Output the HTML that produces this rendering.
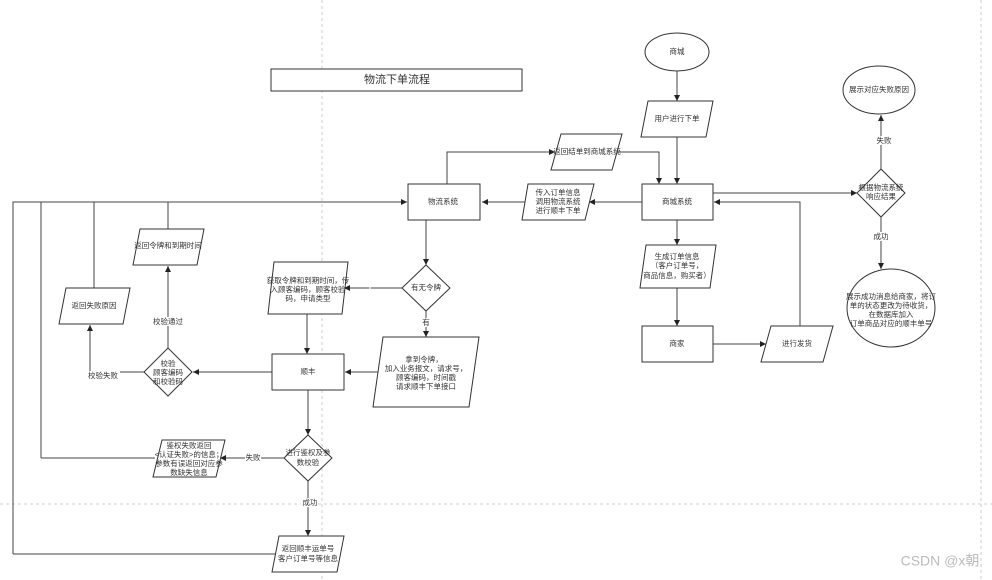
<!DOCTYPE html>
<html><head><meta charset="utf-8"><style>
html,body{margin:0;padding:0;background:#fff;}
svg{display:block;}
text{font-family:"Liberation Sans","Noto Sans CJK SC",sans-serif;font-size:7.5px;fill:#333;text-anchor:middle;dominant-baseline:middle;}
.s{fill:#fff;stroke:#333;stroke-width:1;}
.l{fill:none;stroke:#444;stroke-width:1;}
.lb{fill:#fff;}
</style></head><body>
<svg width="992" height="580" viewBox="0 0 992 580" xmlns="http://www.w3.org/2000/svg">
<defs><marker id="a" markerWidth="8" markerHeight="8" refX="6" refY="3" orient="auto" markerUnits="userSpaceOnUse"><path d="M0,0 L6,3 L0,6 Z" fill="#222"/></marker></defs>
<line x1="322" y1="0" x2="322" y2="580" stroke="#ccc" stroke-dasharray="3,3"/>
<line x1="981" y1="0" x2="981" y2="580" stroke="#ccc" stroke-dasharray="3,3"/>
<line x1="0" y1="504" x2="992" y2="504" stroke="#ccc" stroke-dasharray="3,3"/>

<!-- title -->
<rect x="271" y="69" width="251" height="22" class="s" stroke-width="1.2"/>
<text x="397" y="80" style="font-size:11px">物流下单流程</text>

<!-- connectors -->
<path class="l" d="M677,71 V101" marker-end="url(#a)"/>
<path class="l" d="M677,137 V184" marker-end="url(#a)"/>
<path class="l" d="M447,184 V152 H555" marker-end="url(#a)"/>
<path class="l" d="M617,152 H659 V184" marker-end="url(#a)"/>
<path class="l" d="M642,202 H589" marker-end="url(#a)"/>
<path class="l" d="M527,202 H482" marker-end="url(#a)"/>
<path class="l" d="M426,220 V265" marker-end="url(#a)"/>
<path class="l" d="M402,288 H344" marker-end="url(#a)"/>
<path class="l" d="M426,311 V337" marker-end="url(#a)"/>
<path class="l" d="M378,372 H345" marker-end="url(#a)"/>
<path class="l" d="M307,314 V354" marker-end="url(#a)"/>
<path class="l" d="M272,372 H193" marker-end="url(#a)"/>
<path class="l" d="M168,348 V266" marker-end="url(#a)"/>
<path class="l" d="M144,372 H90 V325" marker-end="url(#a)"/>
<path class="l" d="M168,229 V202"/>
<path class="l" d="M94,288 V202"/>
<path class="l" d="M13,554 V202 H407" marker-end="url(#a)"/>
<path class="l" d="M41,458 V202"/>
<path class="l" d="M308,390 V435" marker-end="url(#a)"/>
<path class="l" d="M284,458 H220" marker-end="url(#a)"/>
<path class="l" d="M155,458 H41"/>
<path class="l" d="M308,481 V536" marker-end="url(#a)"/>
<path class="l" d="M276,554 H13"/>
<path class="l" d="M677,220 V245" marker-end="url(#a)"/>
<path class="l" d="M677,288 V326" marker-end="url(#a)"/>
<path class="l" d="M713,344 H766" marker-end="url(#a)"/>
<path class="l" d="M800,326 V202 H714" marker-end="url(#a)"/>
<path class="l" d="M713,193 H857" marker-end="url(#a)"/>
<path class="l" d="M881,169 V115" marker-end="url(#a)"/>
<path class="l" d="M881,217 V269" marker-end="url(#a)"/>

<!-- labels on lines -->
<text x="370" y="288" class="lb" style="font-size:7px">无</text>
<rect x="421" y="318" width="10" height="9" fill="#fff"/><text x="426" y="323">有</text>
<rect x="151" y="317" width="34" height="9" fill="#fff"/><text x="168" y="322">校验通过</text>
<rect x="88" y="371" width="32" height="9" fill="#fff"/><text x="103" y="376">校验失败</text>
<rect x="245" y="453" width="16" height="9" fill="#fff"/><text x="253" y="458">失败</text>
<rect x="301" y="498" width="16" height="9" fill="#fff"/><text x="310" y="503">成功</text>
<rect x="876" y="136" width="16" height="9" fill="#fff"/><text x="884" y="141">失败</text>
<rect x="873" y="232" width="16" height="9" fill="#fff"/><text x="881" y="237">成功</text>

<!-- shapes -->
<ellipse cx="677" cy="52" rx="32" ry="19" class="s"/><text x="677" y="52">商城</text>
<polygon points="648,101 713,101 706,137 641,137" class="s"/><text x="677" y="119">用户进行下单</text>
<rect x="642" y="184" width="71" height="36" class="s"/><text x="677" y="202">商城系统</text>
<polygon points="561,134 622,134 612,170 551,170" class="s"/><text x="587" y="152">返回结单到商城系统</text>
<polygon points="528,184 594,184 585,220 522,220" class="s"/>
<text x="558" y="193">传入订单信息</text><text x="558" y="202">调用物流系统</text><text x="558" y="211">进行顺丰下单</text>
<rect x="408" y="184" width="72" height="36" class="s"/><text x="443" y="202">物流系统</text>
<polygon points="426,265 450,288 426,311 402,288" class="s"/><text x="426" y="288">有无令牌</text>
<polygon points="274,262 348,262 342,314 268,314" class="s"/>
<text x="308" y="281">获取令牌和到期时间，传</text><text x="308" y="290">入顾客编码，顾客校验</text><text x="308" y="299">码，申请类型</text>
<polygon points="383,337 479,337 469,407 373,407" class="s"/>
<text x="424" y="360">拿到令牌，</text><text x="426" y="369">加入业务报文，请求号，</text><text x="426" y="378">顾客编码，时间戳</text><text x="426" y="387">请求顺丰下单接口</text>
<rect x="272" y="354" width="72" height="36" class="s" stroke-width="1.3"/><text x="308" y="372">顺丰</text>
<polygon points="168,348 192,372 168,396 144,372" class="s"/>
<text x="168" y="364">校验</text><text x="168" y="373">顾客编码</text><text x="168" y="382">和校验码</text>
<polygon points="140,229 204,229 197,265 133,265" class="s"/><text x="168" y="246">返回令牌和到期时间</text>
<polygon points="66,288 130,288 123,324 59,324" class="s"/><text x="94" y="306">返回失败原因</text>
<polygon points="308,435 332,458 308,481 284,458" class="s"/>
<text x="308" y="453">进行鉴权及参</text><text x="308" y="463">数校验</text>
<polygon points="162,440 225,440 216,477 153,477" class="s"/>
<text x="189" y="446">鉴权失败返回</text><text x="189" y="455">&lt;认证失败&gt;的信息；</text><text x="189" y="464">参数有误返回对应参</text><text x="189" y="473">数缺失信息</text>
<polygon points="279,536 344,536 337,572 272,572" class="s"/>
<text x="308" y="549">返回顺丰运单号</text><text x="308" y="559">客户订单号等信息</text>
<polygon points="646,245 716,245 710,288 640,288" class="s"/>
<text x="677" y="257">生成订单信息</text><text x="677" y="266">（客户订单号，</text><text x="677" y="276">商品信息，购买者）</text>
<rect x="642" y="326" width="71" height="36" class="s"/><text x="677" y="344">商家</text>
<polygon points="771,326 833,326 823,362 761,362" class="s"/><text x="797" y="344">进行发货</text>
<polygon points="881,169 905,193 881,217 857,193" class="s"/>
<text x="881" y="188">根据物流系统</text><text x="881" y="197">响应结果</text>
<ellipse cx="879" cy="90" rx="36" ry="24" class="s"/><text x="879" y="90">展示对应失败原因</text>
<ellipse cx="891" cy="308" rx="44" ry="39" class="s"/>
<text x="891" y="297">展示成功消息给商家，将订</text><text x="891" y="306">单的状态更改为待收货，</text><text x="891" y="315">在数据库加入</text><text x="891" y="324">订单商品对应的顺丰单号</text>

<text x="940" y="562" style="font-size:14px;fill:#bbb">CSDN @x朝</text>
</svg>
</body></html>
